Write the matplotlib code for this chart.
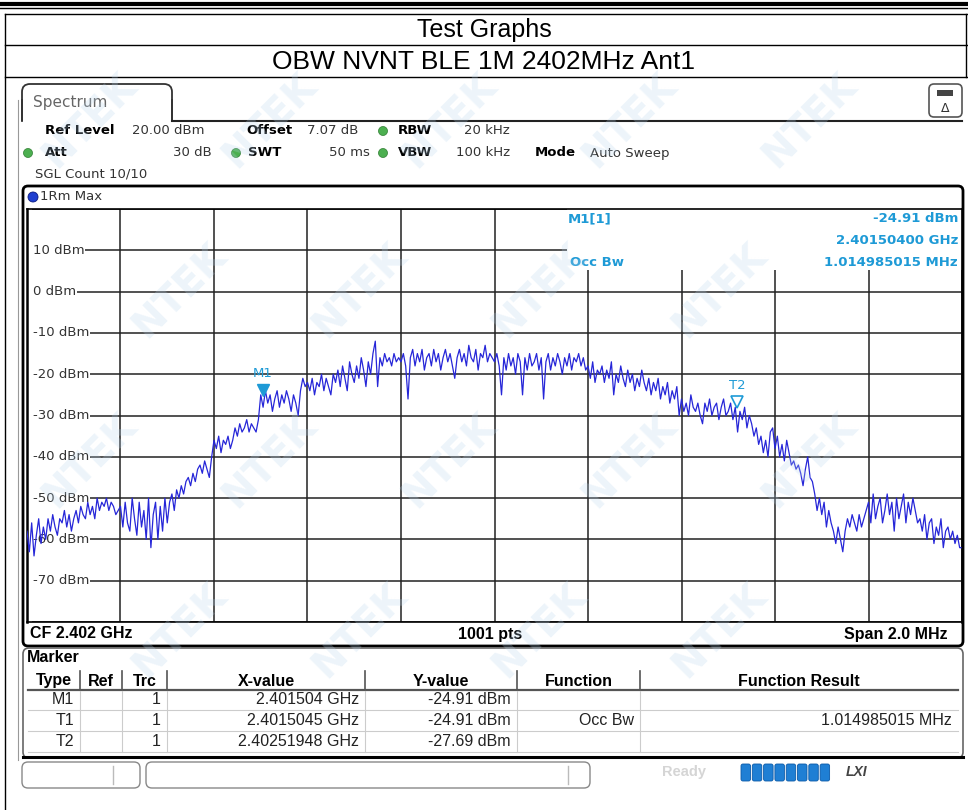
import numpy as np
import matplotlib.pyplot as plt
from matplotlib.lines import Line2D
from matplotlib.patches import Rectangle, FancyBboxPatch, Circle
from matplotlib.transforms import Affine2D

# sweep: 2.401 .. 2.403 GHz, trace every 5 kHz (dBm)
f_start, f_stop = 2.401, 2.403
trace_dbm = [
    -58, -63, -56, -64, -59, -55, -61, -57, -60, -55, -58, -54, -57, -59, -55, -56, -53, -57, -54, -58,
    -55, -53, -56, -52, -54, -55, -51, -54, -52, -55, -50, -53, -51, -52, -50, -53, -51, -52, -54, -53,
    -52, -57, -51, -56, -58, -50, -55, -59, -51, -57, -53, -60, -50, -62, -54, -51, -60, -52, -58, -50,
    -56, -51, -49, -53, -48, -50, -47, -49, -46, -45, -47, -44, -46, -43, -42, -44, -41, -43, -45, -40,
    -36, -38, -35, -39, -36, -37, -35, -38, -36, -33, -35, -32, -34, -33, -31, -34, -32, -33, -34, -31,
    -25, -28, -24, -27, -25, -29, -26, -24, -28, -25, -27, -24, -26, -29, -25, -27, -30, -24, -21, -23,
    -22, -24, -21, -25, -22, -23, -20, -24, -21, -23, -25, -20, -22, -19, -23, -18, -21, -24, -17, -20,
    -22, -18, -21, -16, -19, -23, -17, -20, -15, -12, -23, -16, -18, -15, -17, -16, -18, -15, -17, -16,
    -17, -15, -18, -26, -16, -14, -18, -15, -17, -14, -19, -16, -15, -18, -14, -17, -15, -19, -16, -14,
    -17, -15, -18, -21, -16, -14, -17, -15, -18, -13, -16, -17, -14, -19, -15, -16, -13, -17, -15, -16,
    -17, -15, -18, -25, -16, -19, -15, -18, -16, -20, -15, -17, -25, -16, -19, -15, -18, -17, -15, -19,
    -16, -26, -17, -15, -19, -16, -18, -15, -17, -20, -16, -18, -15, -19, -16, -17, -15, -18, -16, -19,
    -18, -21, -17, -22, -19, -20, -18, -22, -19, -21, -17, -25, -20, -22, -18, -21, -23, -19, -22, -20,
    -24, -21, -23, -19, -22, -24, -21, -25, -22, -24, -21, -26, -23, -25, -22, -27, -24, -26, -23, -30,
    -26, -29, -27, -30, -25, -28, -29, -27, -30, -32, -27, -29, -26, -30, -28, -27, -31, -28, -26, -30,
    -29, -27, -31, -28, -34, -29, -31, -28, -33, -30, -32, -35, -33, -37, -35, -39, -36, -40, -34, -33,
    -38, -35, -40, -37, -41, -36, -39, -42, -41, -43, -42, -44, -47, -43, -40, -45, -46, -49, -53, -50,
    -54, -51, -57, -53, -56, -58, -61, -57, -60, -63, -58, -55, -57, -54, -56, -58, -54, -57, -55, -53,
    -51, -56, -49, -55, -52, -50, -56, -53, -49, -54, -51, -58, -50, -55, -52, -49, -56, -51, -54, -50,
    -53, -56, -55, -58, -54, -60, -56, -55, -61, -57, -59, -55, -62, -58, -57, -60, -58, -61, -59, -62,
    -62,
]
freq_ghz = np.linspace(f_start, f_stop, len(trace_dbm))

y_levels = [10, 0, -10, -20, -30, -40, -50, -60, -70]
m1 = (2.401504, -24.91)
t2 = (2.40251948, -27.69)

table_head = ["Type", "Ref", "Trc", "X-value", "Y-value", "Function", "Function Result"]
table_rows = [
    ["M1", "", "1", "2.401504 GHz", "-24.91 dBm", "", ""],
    ["T1", "", "1", "2.4015045 GHz", "-24.91 dBm", "Occ Bw", "1.014985015 MHz"],
    ["T2", "", "1", "2.40251948 GHz", "-27.69 dBm", "", ""],
]

W, H = 968, 810
fig = plt.figure(figsize=(W / 100, H / 100), dpi=100)
pix = Affine2D().scale(1 / W, -1 / H).translate(0, 1) + fig.transFigure

NARROW = ["Liberation Sans Narrow", "Liberation Sans", "DejaVu Sans"]
RS = ["DejaVu Sans"]
BLUE_TXT = "#1e9ad6"


def line(x0, y0, x1, y1, c="black", lw=1.0, z=1):
    fig.add_artist(Line2D([x0, x1], [y0, y1], transform=pix, color=c, lw=lw, zorder=z))


def txt(x, y, s, **kw):
    kw.setdefault("va", "center")
    kw.setdefault("family", RS)
    kw.setdefault("fontsize", 9.5)
    fig.text(x, y, s, transform=pix, **kw)


def rbox(x, y, w, h, ec="black", lw=1.0, r=6, fc="none", z=1):
    fig.add_artist(FancyBboxPatch((x, y), w, h, boxstyle=f"round,pad=0,rounding_size={r}",
                                  transform=pix, ec=ec, fc=fc, lw=lw, zorder=z))


# ---- report header table
line(0, 4, W, 4, lw=3)
line(0, 8, W, 8, lw=1)
line(5, 14, W, 14)
line(5, 45, W, 45)
line(5, 77, W, 77)
line(5, 14, 5, H)
line(966, 14, 966, 77)
txt(484, 30, "Test Graphs", ha="center", family=NARROW, fontsize=18)
txt(484, 62, "OBW NVNT BLE 1M 2402MHz Ant1", ha="center", family=NARROW, fontsize=19)

# ---- analyser screen
rbox(22, 84, 150, 50, ec="#333333", lw=1.3, r=8)
fig.add_artist(Rectangle((21, 121), 153, 20, transform=pix, fc="white", ec="none", zorder=1.5))
line(22, 100, 22, 121, c="#333333", lw=1.3, z=2)
line(172, 100, 172, 121, c="#333333", lw=1.3, z=2)
line(172, 121, 962, 121, c="#222222", lw=1.5, z=2)
txt(33, 102, "Spectrum", color="#666666", fontsize=11)
rbox(929, 84, 33, 33, ec="#555555", lw=1.2, r=5)
txt(945, 108, "\u0394", ha="center", fontsize=9, color="#333333")
fig.add_artist(Rectangle((937, 90), 16, 6, transform=pix, fc="#444444", ec="none"))
line(18, 100, 18, 760, c="#999999", lw=0.8)

GREEN = "#4caf50"
for (x, y) in [(383, 131), (28, 153), (236, 153), (383, 153)]:
    fig.add_artist(Circle((x, y), 4.5, transform=pix, fc=GREEN, ec="#2e7d32", lw=0.5))
txt(45, 131, "Ref Level", weight="bold")
txt(132, 131, "20.00 dBm", color="#333333")
txt(246, 131, "Offset", weight="bold")
txt(307, 131, "7.07 dB", color="#333333")
txt(398, 131, "RBW", weight="bold")
txt(510, 131, "20 kHz", ha="right", color="#333333")
txt(45, 153, "Att", weight="bold")
txt(212, 153, "30 dB", ha="right", color="#333333")
txt(248, 153, "SWT", weight="bold")
txt(370, 153, "50 ms", ha="right", color="#333333")
txt(398, 153, "VBW", weight="bold")
txt(510, 153, "100 kHz", ha="right", color="#333333")
txt(535, 153, "Mode", weight="bold")
txt(590, 153, "Auto Sweep", color="#333333")
txt(35, 174, "SGL Count 10/10", color="#333333")

# trace window frame
rbox(23, 186, 940, 460, ec="black", lw=2.0, r=5)
fig.add_artist(Circle((33, 197), 5, transform=pix, fc="#1f3fd0", ec="#0a1a80", lw=0.6, zorder=3))
txt(40, 197, "1Rm Max", color="#333333")
txt(30, 634, "CF 2.402 GHz", family=NARROW, weight="bold", fontsize=11.5)
txt(490, 634, "1001 pts", ha="center", family=NARROW, weight="bold", fontsize=11.5)
txt(948, 634, "Span 2.0 MHz", ha="right", family=NARROW, weight="bold", fontsize=11.5)

# ---- spectrum axes
ax = fig.add_axes([27 / W, 1 - 622 / H, 935 / W, 413 / H])
ax.set_xlim(f_start, f_stop)
ax.set_ylim(-80, 20)
ax.set_xticks(np.linspace(f_start, f_stop, 11))
ax.set_yticks(np.arange(-80, 21, 10))
ax.tick_params(length=0, labelbottom=False, labelleft=False)
ax.grid(True, color="#222222", lw=1.1, zorder=1)
ax.set_axisbelow(True)
for side in ["left", "right", "top", "bottom"]:
    ax.spines[side].set_linewidth(1.8 if side in ("left", "right") else 1.2)
ax.add_patch(Rectangle((0.5775, 0.853), 0.4225, 0.147, transform=ax.transAxes,
                       fc="white", ec="none", zorder=1.5))
ax.add_patch(Rectangle((0.001, 0), 0.004, 1, transform=ax.transAxes,
                       fc="white", ec="none", zorder=1.5))
for lv in y_levels:
    ax.text(0.006, lv, f"{lv} dBm", transform=ax.get_yaxis_transform(), va="center",
            ha="left", fontsize=9.5, color="#333333", family=RS, zorder=2,
            bbox=dict(fc="white", ec="none", pad=0.6))
ax.plot(freq_ghz, trace_dbm, color="#2626d8", lw=0.9, zorder=3)

ax.plot([m1[0]], [m1[1] + 1.2], marker="v", ms=8, color=BLUE_TXT, zorder=4)
ax.annotate("M1", (m1[0], m1[1] + 3.5), ha="center", va="bottom", fontsize=9.5,
            color=BLUE_TXT, family=RS)
ax.plot([t2[0]], [t2[1] + 1.0], marker="v", ms=8, mfc="none", mec=BLUE_TXT, mew=1.2, zorder=4)
ax.annotate("T2", (t2[0], t2[1] + 3.3), ha="center", va="bottom", fontsize=9.5,
            color=BLUE_TXT, family=RS)

txt(568, 219, "M1[1]", color=BLUE_TXT, weight="bold")
txt(958, 219, "-24.91 dBm", ha="right", color=BLUE_TXT, weight="bold")
txt(958, 240, "2.40150400 GHz", ha="right", color=BLUE_TXT, weight="bold")
txt(570, 262, "Occ Bw", color=BLUE_TXT, weight="bold")
txt(958, 262, "1.014985015 MHz", ha="right", color=BLUE_TXT, weight="bold")

# ---- marker table
rbox(23, 648, 940, 110, ec="#666666", lw=1.2, r=6)
line(23, 757, 963, 757, lw=2.2)
txt(27, 658, "Marker", family=NARROW, weight="bold", fontsize=11.5)
col_x = [28, 80, 122, 167, 365, 517, 640, 958]
line(28, 690, 958, 690, c="#555555", lw=1.6)
for x in col_x[1:-1]:
    line(x, 671, x, 690, c="#555555", lw=1.2)
    line(x, 691, x, 752, c="#cccccc", lw=0.8)
for y in [710, 731, 752]:
    line(28, y, 958, y, c="#cccccc", lw=0.8)
for i, h in enumerate(table_head):
    txt((col_x[i] + col_x[i + 1]) / 2, 681, h, ha="center", family=NARROW, weight="bold",
        fontsize=11.5)
for r, row in enumerate(table_rows):
    y = 700 + r * 20.5
    for i, v in enumerate(row):
        if v:
            txt(col_x[i + 1] - 6, y, v, ha="right", family=NARROW, fontsize=11.5, color="#222222")

# ---- status bar
rbox(22, 762, 118, 26, ec="#888888", lw=1.0, r=6)
rbox(146, 762, 444, 26, ec="#888888", lw=1.0, r=6)
line(113, 766, 113, 784, c="#bbbbbb")
line(568, 766, 568, 784, c="#bbbbbb")
txt(662, 772, "Ready", color="#d5d5d5", family=NARROW, weight="bold", fontsize=10.5)
for k in range(8):
    fig.add_artist(FancyBboxPatch((741 + k * 11.3, 764), 9.5, 17, boxstyle="round,pad=0,rounding_size=2",
                                  transform=pix, fc="#1f7fd4", ec="#0b5aa8", lw=0.6))
txt(846, 772, "LXI", color="#444444", family=NARROW, weight="bold", style="italic", fontsize=10)

# ---- faint watermark (kept inside the picture)
for j, yy in enumerate(range(120, 760, 170)):
    for xx in range(90 + (j % 2) * 90, 900, 180):
        fig.text(xx, yy, "NTEK", transform=pix, rotation=45, fontsize=28, weight="bold",
                 color="#b9d6ee", alpha=0.25, ha="center", va="center", zorder=10,
                 family=RS)

fig.savefig("out.png", dpi=100)
